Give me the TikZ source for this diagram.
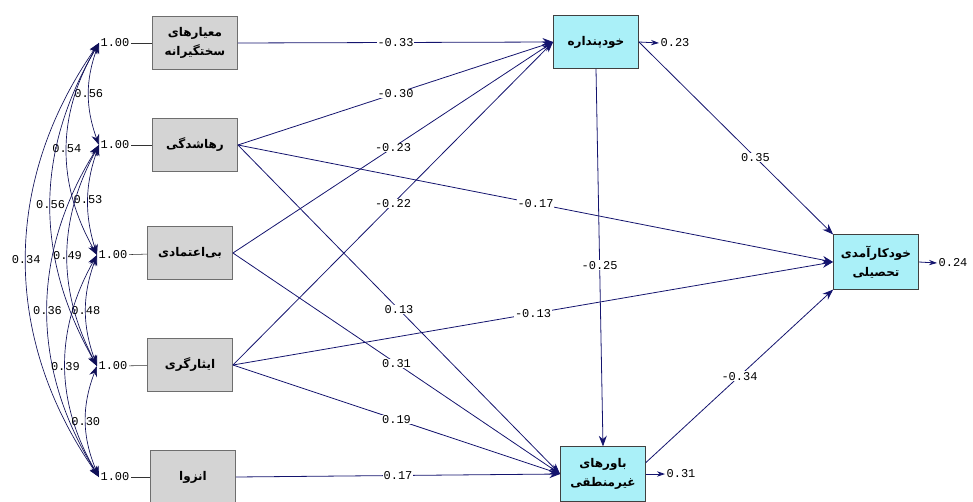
\documentclass[tikz,border=0pt]{standalone}
\usepackage{fontspec}
\usetikzlibrary{arrows.meta}
\TeXXeTstate=1
\newfontfamily\fafont[Script=Arabic]{DejaVu Sans}
\newfontfamily\numfont{Liberation Mono}
\definecolor{pathblue}{RGB}{20,20,110}
\definecolor{exofill}{RGB}{212,212,212}
\definecolor{exoline}{RGB}{110,110,110}
\definecolor{endofill}{RGB}{170,240,248}

\tikzset{
  exo/.style={draw=exoline, fill=exofill, minimum width=64pt, minimum height=40pt,
    align=center, inner sep=1pt, font=\fafont\bfseries\fontsize{9}{14}\selectfont},
  endo/.style={exo, draw=black!75, fill=endofill},
  causal/.style={->, draw=pathblue, line width=0.6pt},
  covar/.style={<->, draw=pathblue!80!black, line width=0.5pt},
  coef/.style={font=\numfont\fontsize{9}{10}\selectfont, fill=white, inner sep=0.5pt},
  covlbl/.style={font=\numfont\fontsize{9}{10}\selectfont, inner sep=0pt},
  varlbl/.style={font=\numfont\fontsize{9}{10}\selectfont, inner sep=1pt}
}

\begin{document}
\begin{tikzpicture}[x=0.75pt, y=-0.75pt, >={Stealth[length=8pt,width=6pt]}]
  \useasboundingbox (0,0) rectangle (973,502);

  % --- exogenous variables ---
  \node[exo] (strict) at (195,43) {\beginR معیارهای\endR\\\beginR سختگیرانه\endR};
  \node[exo] (aband) at (195,145) {\beginR رهاشدگی\endR};
  \node[exo] (mistrust) at (190,253) {\beginR بی‌اعتمادی\endR};
  \node[exo] (selfsac) at (190,365) {\beginR ایثارگری\endR};
  \node[exo] (isol) at (193,477) {\beginR انزوا\endR};

  % --- endogenous variables ---
  \node[endo] (selfc) at (596,42) {\beginR خودپنداره\endR};
  \node[endo, minimum height=41pt] (irr) at (603,474) {\beginR باورهای\endR\\\beginR غیرمنطقی\endR};
  \node[endo, minimum height=41pt] (effic) at (876,262) {\beginR خودکارآمدی\endR\\\beginR تحصیلی\endR};

  % --- variances ---
  \node[varlbl] (v1) at (115,43) {1.00};
  \node[varlbl] (v2) at (115,145) {1.00};
  \node[varlbl] (v3) at (113,255) {1.00};
  \node[varlbl] (v4) at (113,366) {1.00};
  \node[varlbl] (v5) at (115,477) {1.00};
  \draw[black!80] (v1) -- (strict);
  \draw[black!80] (v2) -- (aband);
  \draw[black!80] (v3) -- (mistrust);
  \draw[black!80] (v4) -- (selfsac);
  \draw[black!80] (v5) -- (isol);

  % --- correlations ---
  \foreach \i/\j/\r/\ang in {1/2/0.56/20, 1/3/0.54/30, 1/4/0.56/30, 1/5/0.34/35,
      2/3/0.53/18, 2/4/0.49/28, 2/5/0.36/32, 3/4/0.48/20, 3/5/0.39/30, 4/5/0.30/22}
    \draw[covar] (v\i.west) to[bend right=\ang] node[covlbl] {\r} (v\j.west);

  % --- paths ---
  \foreach \s/\t/\c in {strict/selfc/-0.33, aband/selfc/-0.30, mistrust/selfc/-0.23,
      selfsac/selfc/-0.22, aband/effic/-0.17, selfsac/effic/-0.13, aband/irr/0.13,
      mistrust/irr/0.31, selfsac/irr/0.19, isol/irr/0.17}
    \draw[causal] (\s.east) -- node[coef] {\c} (\t.west);
  \draw[causal] (selfc.south) -- node[coef, pos=0.52] {-0.25} (irr.north);
  \draw[causal] (selfc.east) -- node[coef, pos=0.6] {0.35} (effic.north west);
  \draw[causal] (irr.15) -- node[coef] {-0.34} (effic.south west);

  % --- residuals ---
  \node[varlbl] (e1) at (675,43) {0.23};
  \node[varlbl] (e2) at (681,474) {0.31};
  \node[varlbl] (e3) at (953,263) {0.24};
  \draw[causal, >={Stealth[length=6pt,width=4pt]}] (selfc.east) -- (e1.west);
  \draw[causal, >={Stealth[length=6pt,width=4pt]}] (irr.east) -- (e2.west);
  \draw[causal, >={Stealth[length=6pt,width=4pt]}] (effic.east) -- (e3.west);
\end{tikzpicture}
\end{document}
